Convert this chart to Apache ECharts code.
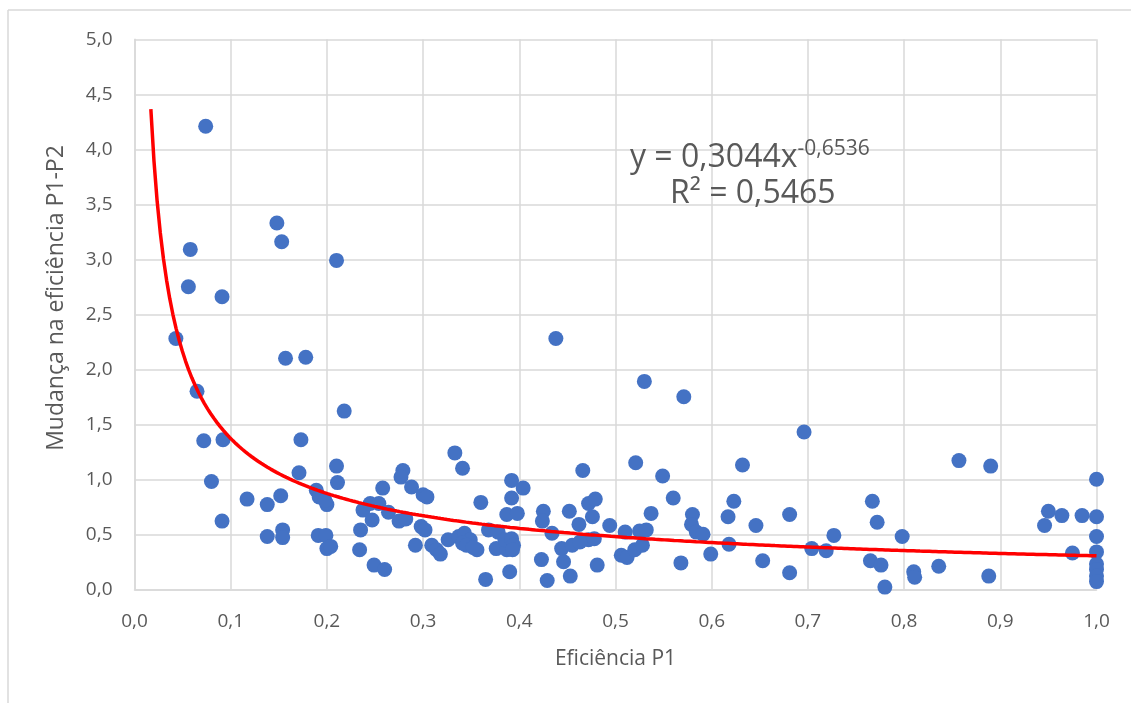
<!DOCTYPE html>
<html>
<head>
<meta charset="utf-8">
<script src="https://cdn.jsdelivr.net/npm/echarts@6/dist/echarts.min.js"></script>
<style>html,body{margin:0;padding:0;background:#fff}#c{width:1131px;height:703px}</style>
</head>
<body>
<div id="c"></div>
<script>
// Eficiência P1 (x) and Mudança na eficiência P1-P2 (y)
const effP1 = [
  0.074,0.148,0.153,0.058,0.210,0.056,0.091,0.043,0.157,0.178,
  0.065,0.218,0.072,0.092,0.173,0.080,0.171,0.210,0.211,0.091,
  0.117,0.138,0.152,0.138,0.154,0.154,0.189,0.192,0.200,0.198,
  0.191,0.199,0.200,0.204,0.235,0.234,0.249,0.2375,0.245,0.247,
  0.254,0.264,0.258,0.260,0.279,0.277,0.288,0.275,0.282,0.300,
  0.304,0.298,0.302,0.292,0.309,0.314,0.318,0.333,0.341,0.326,
  0.337,0.343,0.349,0.356,0.341,0.360,0.365,0.368,0.378,0.376,
  0.387,0.385,0.392,0.394,0.390,0.392,0.392,0.404,0.387,0.398,
  0.425,0.424,0.434,0.423,0.429,0.438,0.444,0.446,0.453,0.452,
  0.462,0.472,0.479,0.476,0.494,0.472,0.466,0.481,0.455,0.463,
  0.478,0.345,0.352,0.393,0.530,0.571,0.696,0.521,0.549,0.632,
  0.560,0.537,0.580,0.623,0.617,0.646,0.681,0.510,0.525,0.532,
  0.579,0.584,0.591,0.506,0.512,0.520,0.528,0.568,0.599,0.618,
  0.653,0.681,0.704,0.719,0.727,0.857,0.890,0.767,0.772,0.798,
  0.765,0.776,0.780,0.810,0.811,0.836,0.888,0.950,0.946,0.964,
  0.985,0.975,1.000,1.000,1.000,1.000,1.000,1.000,1.000,1.000
];
const mudanca = [
  4.21,3.33,3.16,3.09,2.99,2.75,2.66,2.28,2.10,2.11,
  1.80,1.62,1.35,1.36,1.36,0.98,1.06,1.12,0.97,0.62,
  0.82,0.77,0.85,0.48,0.54,0.47,0.90,0.84,0.77,0.81,
  0.49,0.49,0.37,0.39,0.54,0.36,0.22,0.72,0.78,0.63,
  0.78,0.70,0.92,0.18,1.08,1.02,0.93,0.62,0.64,0.86,
  0.84,0.57,0.54,0.40,0.40,0.36,0.32,1.24,1.10,0.45,
  0.48,0.51,0.45,0.36,0.42,0.79,0.09,0.54,0.52,0.37,
  0.36,0.45,0.46,0.40,0.16,0.99,0.83,0.92,0.68,0.69,
  0.71,0.62,0.51,0.27,0.08,2.28,0.37,0.25,0.12,0.71,
  0.59,0.78,0.82,0.66,0.58,0.45,1.08,0.22,0.40,0.43,
  0.46,0.40,0.38,0.36,1.89,1.75,1.43,1.15,1.03,1.13,
  0.83,0.69,0.68,0.80,0.66,0.58,0.68,0.52,0.53,0.54,
  0.59,0.52,0.50,0.31,0.29,0.36,0.40,0.24,0.32,0.41,
  0.26,0.15,0.37,0.35,0.49,1.17,1.12,0.80,0.61,0.48,
  0.26,0.22,0.02,0.16,0.11,0.21,0.12,0.71,0.58,0.67,
  0.67,0.33,1.00,0.66,0.48,0.34,0.23,0.18,0.12,0.07
];
const xTicks = [0,0.1,0.2,0.3,0.4,0.5,0.6,0.7,0.8,0.9,1.0];
const yTicks = [0,0.5,1,1.5,2,2.5,3,3.5,4,4.5,5];
const xTitle = 'Eficiência P1';
const yTitle = 'Mudança na eficiência P1-P2';
// Power trendline shown on the chart: y = 0,3044 x^-0,6536
const trendA = 0.3044;
const trendB = -0.6536;
const trendXStart = 0.017;
const trendXEnd = 1.0;

const scatterData = effP1.map((x, i) => [x, mudanca[i]]);
const trendData = [];
for (let k = 0; k <= 300; k++) {
  const x = trendXStart + (trendXEnd - trendXStart) * k / 300;
  trendData.push([x, trendA * Math.pow(x, trendB)]);
}
const fmt = v => v.toFixed(1).replace('.', ',');
const FONT = '"Open Sans", sans-serif';

const chart = echarts.init(document.getElementById('c'), null, {renderer: 'canvas'});
chart.setOption({
  animation: false,
  backgroundColor: '#ffffff',
  grid: {left: 134.5, right: 34.5, top: 39.3, bottom: 113.7, containLabel: false},
  xAxis: {
    type: 'value', min: xTicks[0], max: xTicks[xTicks.length - 1], interval: 0.1,
    name: xTitle, nameLocation: 'middle', nameGap: 59,
    nameTextStyle: {color: '#595959', fontSize: 21, fontFamily: FONT},
    axisLine: {show: true, lineStyle: {color: '#d9d9d9', width: 1.5}},
    axisTick: {show: false},
    axisLabel: {formatter: fmt, color: '#595959', fontSize: 19, fontFamily: FONT, margin: 23},
    splitLine: {show: true, lineStyle: {color: '#d9d9d9', width: 1.5}}
  },
  yAxis: {
    type: 'value', min: yTicks[0], max: yTicks[yTicks.length - 1], interval: 0.5,
    axisLine: {show: true, lineStyle: {color: '#d9d9d9', width: 1.5}},
    axisTick: {show: false},
    axisLabel: {formatter: fmt, color: '#595959', fontSize: 19, fontFamily: FONT, margin: 22},
    splitLine: {show: true, lineStyle: {color: '#d9d9d9', width: 1.5}}
  },
  series: [
    {
      type: 'scatter', data: scatterData, symbol: 'circle', symbolSize: 15,
      itemStyle: {color: '#4472C4', opacity: 1}, z: 2
    },
    {
      type: 'line', data: trendData, showSymbol: false, smooth: false,
      lineStyle: {color: '#ff0000', width: 3.5}, z: 3
    }
  ],
  graphic: [
    {type: 'line', shape: {x1: 8, y1: 10, x2: 1131, y2: 10}, style: {stroke: '#d9d9d9', lineWidth: 1.5}},
    {type: 'line', shape: {x1: 8, y1: 10, x2: 8, y2: 703}, style: {stroke: '#d9d9d9', lineWidth: 1.5}},
    {
      type: 'text', x: 56, y: 298, rotation: Math.PI / 2, z: 10,
      style: {text: yTitle, fontSize: 23, fontFamily: FONT, fill: '#595959', textAlign: 'center', textVerticalAlign: 'middle'}
    },
    {
      type: 'text', left: 630, top: 130, z: 10,
      style: {
        text: '{a|y = 0,3044x}{s|-0,6536}',
        rich: {
          a: {fontSize: 32, fontFamily: FONT, fill: '#595959', lineHeight: 44, verticalAlign: 'bottom'},
          s: {fontSize: 21, fontFamily: FONT, fill: '#595959', lineHeight: 21, verticalAlign: 'top', padding: [9, 0, 0, 0]}
        }
      }
    },
    {
      type: 'text', left: 670, top: 178, z: 10,
      style: {text: 'R² = 0,5465', fontSize: 32, fontFamily: FONT, fill: '#595959'}
    }
  ]
});
</script>
</body>
</html>
